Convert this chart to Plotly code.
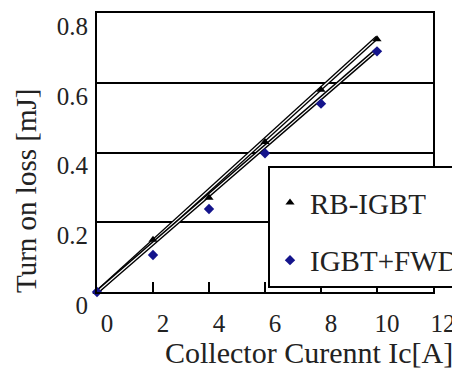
import plotly.graph_objects as go

# data
current = [0, 2, 4, 6, 8, 10]
rb_igbt = [0.0, 0.15, 0.27, 0.43, 0.58, 0.725]
igbt_fwd = [0.0, 0.106, 0.238, 0.398, 0.54, 0.69]
fit_x = [0, 10]
rb_fit = [0.0, 0.73]
fwd_fit = [0.0, 0.695]
x_ticks = [0, 2, 4, 6, 8, 10, 12]
y_ticks = [0, 0.2, 0.4, 0.6, 0.8]
y_tick_text = ["0", "0.2", "0.4", "0.6", "0.8"]

FONT = "Liberation Serif, Times New Roman, serif"
fig = go.Figure()

for fy in (rb_fit, fwd_fit):
    fig.add_trace(go.Scatter(x=fit_x, y=fy, mode="lines", line=dict(color="black", width=4),
                             showlegend=False, hoverinfo="skip"))
    fig.add_trace(go.Scatter(x=fit_x, y=fy, mode="lines", line=dict(color="white", width=1.3),
                             showlegend=False, hoverinfo="skip"))

fig.add_trace(go.Scatter(x=current, y=rb_igbt, mode="markers", name="RB-IGBT",
                         marker=dict(symbol="triangle-up", size=8, color="black"),
                         cliponaxis=False, legendgroup="a"))
fig.add_trace(go.Scatter(x=current, y=igbt_fwd, mode="markers", name="IGBT+FWD\u00a0\u00a0\u00a0",
                         marker=dict(symbol="diamond", size=8, color="#14148c"),
                         cliponaxis=False, legendgroup="b"))

fig.update_layout(
    width=460, height=369,
    margin=dict(l=89, r=35, t=5, b=85, autoexpand=False),
    paper_bgcolor="white", plot_bgcolor="white",
    font=dict(family=FONT, color="#222", size=25),
    showlegend=True,
    legend=dict(x=(268 - 97) / 336, xanchor="left", y=(292 - 166) / 279, yanchor="top",
                bgcolor="white", bordercolor="black", borderwidth=2,
                font=dict(family=FONT, size=29, color="#222"),
                title=dict(text="\u00a0", font=dict(size=7)),
                tracegroupgap=17, traceorder="grouped", itemwidth=30),
    xaxis=dict(range=[0, 12], tickvals=x_ticks, ticks="inside", ticklen=10, tickwidth=2,
               tickcolor="black", showline=True, linecolor="black", linewidth=2, mirror=True,
               showgrid=False, zeroline=False, ticklabelshift=10, ticklabelstandoff=8,
               tickfont=dict(size=25, family=FONT)),
    yaxis=dict(range=[0, 0.8], tickvals=y_ticks, ticktext=y_tick_text, ticks="",
               showline=True, linecolor="black", linewidth=2, mirror=True,
               showgrid=True, gridcolor="black", gridwidth=2, zeroline=False,
               ticklabelshift=13, ticklabelstandoff=2,
               tickfont=dict(size=25, family=FONT)),
    annotations=[
        dict(text="Collector Curennt Ic[A]", xref="paper", yref="paper",
             x=(309 - 97) / 336, y=(292 - 352) / 279, xanchor="center", yanchor="middle",
             showarrow=False, font=dict(size=30, family=FONT, color="#222")),
        dict(text="Turn on loss [mJ]", xref="paper", yref="paper", textangle=-90,
             x=(26 - 97) / 336, y=(292 - 191) / 279, xanchor="center", yanchor="middle",
             showarrow=False, font=dict(size=29, family=FONT, color="#222")),
    ],
)

fig.write_html("out.html")
